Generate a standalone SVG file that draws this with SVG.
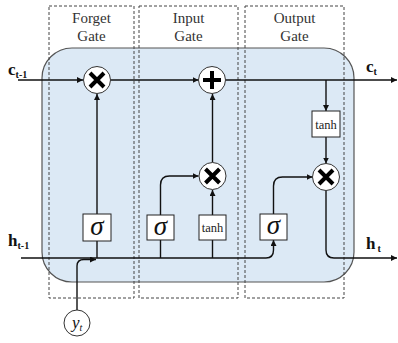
<svg xmlns="http://www.w3.org/2000/svg" width="398" height="343" viewBox="0 0 398 343">
<defs>
<style>
.gate{fill:none;stroke:#444;stroke-width:1;stroke-dasharray:3,2}
.ln{fill:none;stroke:#111;stroke-width:1.4}
.box{fill:#fff;stroke:#222;stroke-width:1}
.op{fill:#fff;stroke:#333;stroke-width:1}
.x{stroke:#000;stroke-width:4;stroke-linecap:butt}
.t{font-family:"Liberation Serif",serif;font-size:15px;fill:#333;text-anchor:middle}
.sig{font-family:"Liberation Serif",serif;font-size:27px;font-style:italic;fill:#111;text-anchor:middle}
.tanh{font-family:"Liberation Serif",serif;font-size:12.5px;fill:#222;text-anchor:middle}
.lbl{font-family:"Liberation Serif",serif;font-weight:bold;font-size:17px;fill:#111}
.sub{font-size:10px}
</style>
<marker id="ah" viewBox="0 0 10 10" refX="10" refY="5" markerWidth="6" markerHeight="6" orient="auto" markerUnits="userSpaceOnUse">
<path d="M0,0 L10,5 L0,10 z" fill="#111"/>
</marker>
</defs>
<rect x="42" y="48" width="312" height="234" rx="30" ry="30" fill="#dce9f5" stroke="#555" stroke-width="1.2"/>
<g id="forget-gate">
<rect class="gate" x="49" y="6" width="85" height="292"/>
<text class="t" x="91.5" y="23">Forget</text>
<text class="t" x="91.5" y="41">Gate</text>
</g>
<g id="input-gate">
<rect class="gate" x="139" y="6" width="99" height="292"/>
<text class="t" x="188.5" y="23">Input</text>
<text class="t" x="188.5" y="41">Gate</text>
</g>
<g id="output-gate">
<rect class="gate" x="245" y="6" width="99" height="292"/>
<text class="t" x="294.5" y="23">Output</text>
<text class="t" x="294.5" y="41">Gate</text>
</g>
<g id="connectors">
<line class="ln" x1="18" y1="80" x2="83" y2="80" marker-end="url(#ah)"/>
<line class="ln" x1="110.5" y1="80" x2="198.5" y2="80" marker-end="url(#ah)"/>
<line class="ln" x1="225.5" y1="80" x2="397" y2="80" marker-end="url(#ah)"/>
<line class="ln" x1="97" y1="214" x2="97" y2="94" marker-end="url(#ah)"/>
<line class="ln" x1="212.5" y1="162.5" x2="212.5" y2="94" marker-end="url(#ah)"/>
<path class="ln" d="M160.5,215 V185 Q160.5,176 169.5,176 H198.5" marker-end="url(#ah)"/>
<line class="ln" x1="212.5" y1="215" x2="212.5" y2="190" marker-end="url(#ah)"/>
<line class="ln" x1="326" y1="80" x2="326" y2="111" marker-end="url(#ah)"/>
<line class="ln" x1="326" y1="137" x2="326" y2="163.5" marker-end="url(#ah)"/>
<path class="ln" d="M273.5,214 V186 Q273.5,177 282.5,177 H312.5" marker-end="url(#ah)"/>
<path class="ln" d="M326,190.5 V250 Q326,258 334,258 H397" marker-end="url(#ah)"/>
<path class="ln" d="M21,258 H266 Q273.5,258 273.5,250 V240" marker-end="url(#ah)"/>
<line class="ln" x1="97" y1="241" x2="97" y2="258"/>
<line class="ln" x1="160.5" y1="240" x2="160.5" y2="258"/>
<line class="ln" x1="212.5" y1="240" x2="212.5" y2="258"/>
<path class="ln" d="M77,310 V266 Q77,259.5 84,259.5 H96" marker-end="url(#ah)"/>
</g>
<g id="forget-mult">
<circle class="op" cx="97" cy="80" r="13.5"/>
<path class="x" d="M90,73 L104,87 M104,73 L90,87"/>
</g>
<g id="cell-add">
<circle class="op" cx="212" cy="80" r="13.5"/>
<path class="x" d="M212,71 V89 M203,80 H221"/>
</g>
<g id="forget-sigma">
<rect class="box" x="83" y="214" width="28" height="27"/>
<text class="sig" x="97" y="235">σ</text>
</g>
<g id="input-sigma">
<rect class="box" x="147" y="215" width="27" height="25"/>
<text class="sig" x="160.5" y="235">σ</text>
</g>
<g id="input-tanh">
<rect class="box" x="199" y="215" width="27" height="25"/>
<text class="tanh" x="212.5" y="232">tanh</text>
</g>
<g id="input-mult">
<circle class="op" cx="212.5" cy="176" r="13.5"/>
<path class="x" d="M205.5,169 L219.5,183 M219.5,169 L205.5,183"/>
</g>
<g id="output-sigma">
<rect class="box" x="260" y="214" width="27" height="26"/>
<text class="sig" x="273.5" y="234">σ</text>
</g>
<g id="output-tanh">
<rect class="box" x="312" y="111" width="28" height="26"/>
<text class="tanh" x="326" y="128.5">tanh</text>
</g>
<g id="output-mult">
<circle class="op" cx="326" cy="177" r="13.5"/>
<path class="x" d="M319,170 L333,184 M333,170 L319,184"/>
</g>
<g id="input-y">
<circle class="op" cx="77" cy="323" r="13"/>
<text x="72" y="328" font-family="Liberation Serif,serif" font-style="italic" font-size="17" fill="#111">y<tspan font-size="10" dy="3">t</tspan></text>
</g>
<g id="labels">
<text class="lbl" x="8" y="75">c<tspan class="sub" dy="3">t-1</tspan></text>
<text class="lbl" x="366" y="72">c<tspan class="sub" dy="3">t</tspan></text>
<text class="lbl" x="8" y="246">h<tspan class="sub" dy="3">t-1</tspan></text>
<text class="lbl" x="366" y="249">h<tspan class="sub" dx="2" dy="3">t</tspan></text>
</g>
</svg>
